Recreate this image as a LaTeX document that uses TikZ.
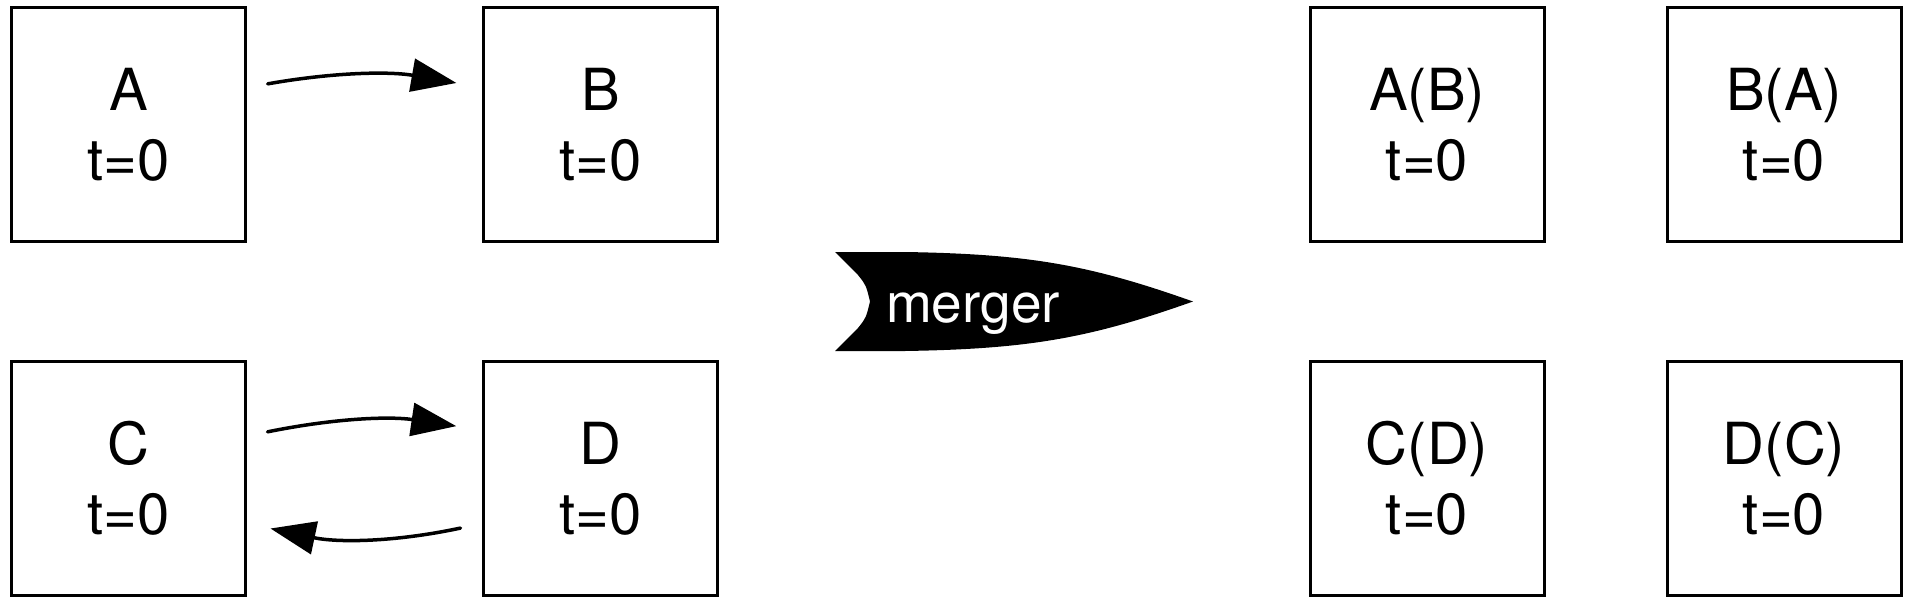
\documentclass[tikz,border=0pt]{standalone}
\usepackage{fontspec}
\setmainfont{TeX Gyre Heros}
\usetikzlibrary{positioning,arrows.meta}

\begin{document}
\begin{tikzpicture}[x=1pt, y=1pt,
	state/.style={rectangle, draw=black, line width=3pt, minimum size=234pt, inner sep=0pt, align=center, font=\fontsize{58}{70}\selectfont},
	arrow/.style={line width=3.5pt, line cap=round, -{Triangle[length=45pt,width=33pt]}, bend left=10}
	]
	\useasboundingbox (0,0) rectangle (1908,-603);

		\node (a) [state] at (128.5,-124.5) {A\\t=0};
		\node (b) [state, right=235pt of a] {B\\t=0};
		\node (c) [state, below=117pt of a] {C\\t=0};
		\node (d) [state, below=117pt of b] {D\\t=0};

		\node (ab) [state] at (1427,-124.5) {A(B)\\t=0};
		\node (ba) [state, right=120pt of ab] {B(A)\\t=0};
		\node (cd) [state, below=117pt of ab] {C(D)\\t=0};
		\node (dc) [state, below=117pt of ba] {D(C)\\t=0};

	\draw [arrow, shorten <=21pt, shorten >=26pt] ([yshift=37pt]a.east) to ([yshift=37pt]b.west);
	\draw [arrow, shorten <=21pt, shorten >=26pt] ([yshift=42.5pt]c.east) to ([yshift=48.5pt]d.west);
	\draw [arrow, bend left=12, shorten <=22pt, shorten >=24pt] ([yshift=-45pt]d.west) to ([yshift=-45pt]c.west-|c.east);

	% merger banner
	\fill (835,-252) -- (905,-252) .. controls (1030,-254) and (1090,-265) .. (1193,-301.5)
		.. controls (1090,-338) and (1030,-349) .. (905,-351) -- (835,-351)
		-- (858,-328) .. controls (866,-318) .. (870,-301.5) .. controls (866,-285) .. (858,-275) -- cycle;
	\node (merger) [anchor=base, text=white, font=\fontsize{55}{66}\selectfont] at (973,-322) {merger};

\end{tikzpicture}
\end{document}
